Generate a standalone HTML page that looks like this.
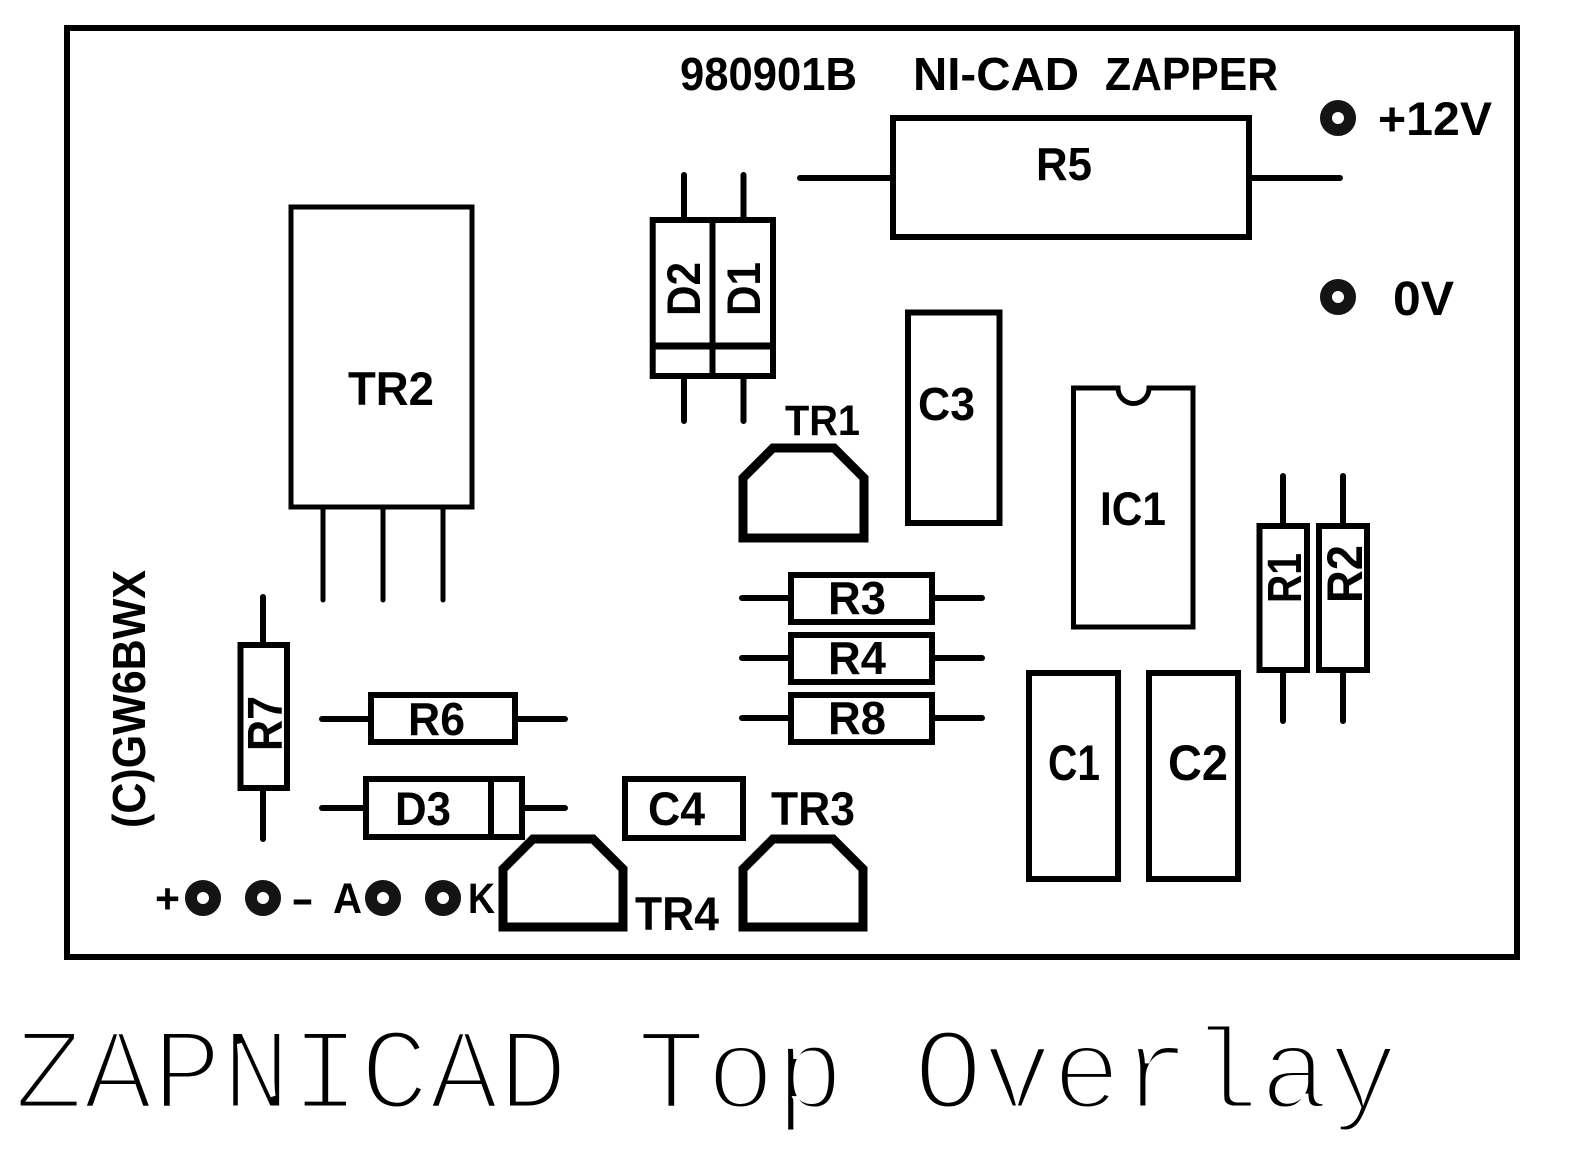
<!DOCTYPE html>
<html>
<head>
<meta charset="utf-8">
<style>
  html, body { margin: 0; padding: 0; background: #fff; }
  svg { display: block; }
  .lbl { font-family: "Liberation Sans", "DejaVu Sans", sans-serif; font-weight: bold; fill: #000; }
  .ttl { font-family: "Liberation Mono", "DejaVu Sans Mono", monospace; fill: #000; stroke: #fff; stroke-width: 5; }
</style>
</head>
<body>
<svg width="1574" height="1154" viewBox="0 0 1574 1154" xmlns="http://www.w3.org/2000/svg">
  <rect x="0" y="0" width="1574" height="1154" fill="#fff"/>

  <g fill="none" stroke="#000" stroke-width="6" stroke-linecap="round" stroke-linejoin="miter">
    <!-- board outline -->
    <rect x="67" y="28" width="1450" height="929"/>

    <!-- TR2 -->
    <rect x="291" y="207" width="181" height="300" stroke-width="5"/>
    <path d="M323 507V600 M383 507V600 M443 507V600" stroke-width="5"/>

    <!-- D2 / D1 block -->
    <rect x="652.7" y="220" width="120.3" height="156"/>
    <path d="M712.5 220V376"/>
    <path d="M652.7 346H773" stroke-width="7" stroke-linecap="butt"/>
    <path d="M684 175V220 M743.5 175V220 M684 376V421 M743.5 376V421"/>

    <!-- R5 -->
    <rect x="893" y="118" width="356" height="119"/>
    <path d="M800 178H893 M1249 178H1340"/>

    <!-- C3 -->
    <rect x="908" y="312.5" width="91.5" height="210.5"/>

    <!-- TR1 -->
    <polygon points="743,538 743,478 773,448 834,448 864,478 864,538" stroke-width="9"/>

    <!-- IC1 -->
    <path d="M1073.5 388H1118 A15.5 15.5 0 0 0 1149 388H1193V627H1073.5Z" stroke-width="5"/>

    <!-- R3 R4 R8 -->
    <rect x="791" y="575" width="141" height="47"/>
    <path d="M742 598H791 M932 598H982"/>
    <rect x="791" y="635" width="141" height="47"/>
    <path d="M742 658H791 M932 658H982"/>
    <rect x="791" y="695" width="141" height="47"/>
    <path d="M742 718H791 M932 718H982"/>

    <!-- R1 R2 -->
    <rect x="1259.5" y="526" width="47.5" height="144"/>
    <path d="M1283 476V526 M1283 670V721"/>
    <rect x="1319" y="526" width="48" height="144"/>
    <path d="M1343 476V526 M1343 670V721"/>

    <!-- C1 C2 -->
    <rect x="1029" y="673" width="89" height="206"/>
    <rect x="1149" y="673" width="89" height="206"/>

    <!-- R7 -->
    <rect x="240.5" y="645" width="46.5" height="143"/>
    <path d="M263 597V645 M263 788V839"/>

    <!-- R6 -->
    <rect x="371" y="695" width="144" height="47"/>
    <path d="M322 719H371 M515 719H565"/>

    <!-- D3 -->
    <rect x="366" y="779" width="156" height="58"/>
    <path d="M491 779V837"/>
    <path d="M322 808H366 M522 808H565"/>

    <!-- C4 -->
    <rect x="625" y="779" width="118" height="59"/>

    <!-- TR4 / TR3 -->
    <polygon points="503,927 503,869 533,839 593,839 623,869 623,927" stroke-width="9"/>
    <polygon points="743,927 743,869 773,839 833,839 863,869 863,927" stroke-width="9"/>
  </g>

  <!-- pads -->
  <g fill="none" stroke="#141414" stroke-width="12">
    <circle cx="1338" cy="118" r="12"/>
    <circle cx="1338" cy="297" r="12"/>
    <circle cx="203" cy="898" r="12"/>
    <circle cx="263" cy="898" r="12"/>
    <circle cx="383" cy="898" r="12"/>
    <circle cx="443" cy="898" r="12"/>
  </g>

  <!-- horizontal labels -->
  <g class="lbl">
    <text x="680" y="90" font-size="46" textLength="177" lengthAdjust="spacingAndGlyphs">980901B</text>
    <text x="913" y="90" font-size="46" textLength="166" lengthAdjust="spacingAndGlyphs">NI-CAD</text>
    <text x="1105" y="90" font-size="46" textLength="173" lengthAdjust="spacingAndGlyphs">ZAPPER</text>
    <text x="1378" y="135" font-size="47" textLength="114" lengthAdjust="spacingAndGlyphs">+12V</text>
    <text x="1393" y="315" font-size="48" textLength="61" lengthAdjust="spacingAndGlyphs">0V</text>
    <text x="1036" y="180" font-size="46" textLength="56" lengthAdjust="spacingAndGlyphs">R5</text>
    <text x="348" y="405" font-size="47" textLength="86" lengthAdjust="spacingAndGlyphs">TR2</text>
    <text x="785" y="435" font-size="43" textLength="75" lengthAdjust="spacingAndGlyphs">TR1</text>
    <text x="918" y="420" font-size="46" textLength="57" lengthAdjust="spacingAndGlyphs">C3</text>
    <text x="1100" y="525" font-size="47" textLength="66" lengthAdjust="spacingAndGlyphs">IC1</text>
    <text x="828" y="614" font-size="46" textLength="58" lengthAdjust="spacingAndGlyphs">R3</text>
    <text x="828" y="674" font-size="46" textLength="58" lengthAdjust="spacingAndGlyphs">R4</text>
    <text x="828" y="734" font-size="46" textLength="58" lengthAdjust="spacingAndGlyphs">R8</text>
    <text x="408" y="735" font-size="46" textLength="57" lengthAdjust="spacingAndGlyphs">R6</text>
    <text x="395" y="825" font-size="47" textLength="56" lengthAdjust="spacingAndGlyphs">D3</text>
    <text x="648" y="825" font-size="47" textLength="57" lengthAdjust="spacingAndGlyphs">C4</text>
    <text x="771" y="825" font-size="47" textLength="84" lengthAdjust="spacingAndGlyphs">TR3</text>
    <text x="635" y="930" font-size="47" textLength="84" lengthAdjust="spacingAndGlyphs">TR4</text>
    <text x="1048" y="780" font-size="50" textLength="52" lengthAdjust="spacingAndGlyphs">C1</text>
    <text x="1168" y="780" font-size="50" textLength="60" lengthAdjust="spacingAndGlyphs">C2</text>
    <!-- connector labels -->
    <text x="155" y="913" font-size="42" textLength="25" lengthAdjust="spacingAndGlyphs">+</text>
    <text x="291" y="913" font-size="42" textLength="23" lengthAdjust="spacingAndGlyphs">-</text>
    <text x="333" y="913" font-size="43" textLength="29" lengthAdjust="spacingAndGlyphs">A</text>
    <text x="468" y="913" font-size="43" textLength="27" lengthAdjust="spacingAndGlyphs">K</text>
  </g>

  <!-- rotated labels (reading bottom to top) -->
  <g class="lbl">
    <text transform="translate(700,316) rotate(-90)" x="0" y="0" font-size="47" textLength="54" lengthAdjust="spacingAndGlyphs">D2</text>
    <text transform="translate(760,316) rotate(-90)" x="0" y="0" font-size="47" textLength="54" lengthAdjust="spacingAndGlyphs">D1</text>
    <text transform="translate(282,751) rotate(-90)" x="0" y="0" font-size="49" textLength="55" lengthAdjust="spacingAndGlyphs">R7</text>
    <text transform="translate(1301,603) rotate(-90)" x="0" y="0" font-size="48" textLength="50" lengthAdjust="spacingAndGlyphs">R1</text>
    <text transform="translate(1362,603) rotate(-90)" x="0" y="0" font-size="50" textLength="58" lengthAdjust="spacingAndGlyphs">R2</text>
    <text transform="translate(145,828) rotate(-90)" x="0" y="0" font-size="46" textLength="258" lengthAdjust="spacingAndGlyphs">(C)GW6BWX</text>
  </g>

  <!-- bottom title -->
  <text class="ttl" x="14" y="1108" font-size="116" textLength="1384" lengthAdjust="spacingAndGlyphs">ZAPNICAD Top Overlay</text>
</svg>
</body>
</html>
